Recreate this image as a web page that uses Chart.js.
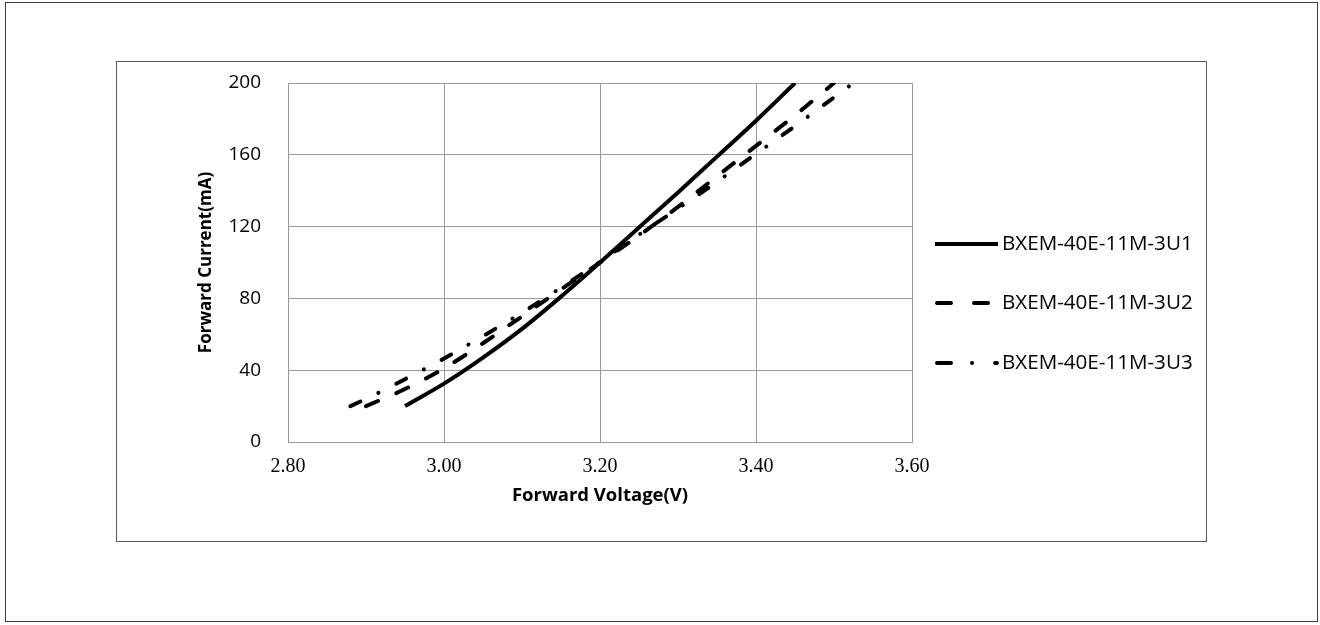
<!DOCTYPE html>
<html>
<head>
<meta charset="utf-8">
<script src="https://cdn.jsdelivr.net/npm/chart.js@4.4.1/dist/chart.umd.min.js"></script>
<style>
  html, body { margin: 0; padding: 0; background: #ffffff; }
  #wrap { width: 1320px; height: 625px; position: relative; }
</style>
</head>
<body>
<div id="wrap"><canvas id="c" width="1320" height="625"></canvas></div>
<script>
// ---- data ----
const seriesNames = ['BXEM-40E-11M-3U1', 'BXEM-40E-11M-3U2', 'BXEM-40E-11M-3U3'];

const u1Voltage = [2.95, 3.00, 3.05, 3.10, 3.15, 3.20, 3.25, 3.30, 3.35, 3.40, 3.45];
const u1Current = [20, 32.5, 47, 63, 81, 100, 119.5, 139, 159, 179, 200];

const u2Voltage = [2.90, 2.95, 3.00, 3.05, 3.10, 3.15, 3.20, 3.25, 3.30, 3.35, 3.40, 3.45, 3.50];
const u2Current = [20, 29.5, 41, 55, 70, 85, 100, 115, 131, 148, 165, 182, 200];

const u3Voltage = [2.88, 2.90, 2.95, 3.00, 3.05, 3.10, 3.15, 3.20, 3.25, 3.30, 3.35, 3.40, 3.45, 3.50, 3.525];
const u3Current = [20, 24, 35, 46.5, 59, 72, 86, 100.5, 115.5, 130, 145, 160.5, 176, 192, 200];

const xTickValues = [2.80, 3.00, 3.20, 3.40, 3.60];
const yTickValues = [0, 40, 80, 120, 160, 200];
const xAxisTitle = 'Forward Voltage(V)';
const yAxisTitle = 'Forward Current(mA)';

// ---- helpers ----
function toPoints(vs, is) { return vs.map((v, k) => ({ x: v, y: is[k] })); }

const GRID = '#9a9a9a';
const plotDashes = [[], [13, 20], [11, 20, 0.1, 20]];
const legendDashes = [[], [14, 23], [14, 21, 0.1, 23]];

const framePlugin = {
  id: 'frame',
  beforeDraw(chart) {
    const ctx = chart.ctx;
    ctx.save();
    ctx.fillStyle = '#ffffff';
    ctx.fillRect(0, 0, chart.width, chart.height);
    ctx.lineWidth = 1;
    ctx.strokeStyle = '#3c3c3c';
    ctx.strokeRect(5.5, 2.5, 1312, 619);
    ctx.strokeStyle = '#5a5a5a';
    ctx.strokeRect(116.5, 61.5, 1090, 480);
    ctx.restore();
  }
};

const legendPlugin = {
  id: 'sideLegend',
  afterDraw(chart) {
    const ctx = chart.ctx;
    const ys = [244, 303, 363];
    chart.data.datasets.forEach((ds, k) => {
      ctx.save();
      ctx.strokeStyle = '#000000';
      ctx.lineWidth = 4;
      ctx.lineCap = k === 0 ? 'butt' : 'round';
      ctx.setLineDash(legendDashes[k]);
      ctx.beginPath();
      ctx.moveTo(k === 0 ? 935 : 937, ys[k]);
      ctx.lineTo(k === 0 ? 998 : 997, ys[k]);
      ctx.stroke();
      ctx.setLineDash([]);
      ctx.font = '20.6px "Open Sans"';
      ctx.fillStyle = '#000000';
      ctx.textAlign = 'left';
      ctx.textBaseline = 'middle';
      ctx.fillText(ds.label, 1002, ys[k]);
      ctx.restore();
    });
  }
};

const seriesData = [toPoints(u1Voltage, u1Current), toPoints(u2Voltage, u2Current), toPoints(u3Voltage, u3Current)];

const datasets = seriesData.map((d, k) => ({
  label: seriesNames[k],
  data: d,
  showLine: true,
  borderColor: '#000000',
  backgroundColor: '#000000',
  borderWidth: 4,
  borderDash: plotDashes[k],
  borderCapStyle: k === 0 ? 'butt' : 'round',
  pointRadius: 0,
  pointHoverRadius: 0,
  cubicInterpolationMode: 'monotone',
  fill: false
}));

new Chart(document.getElementById('c'), {
  type: 'scatter',
  data: { datasets },
  options: {
    responsive: false,
    animation: false,
    devicePixelRatio: 1,
    layout: { padding: { left: 0, top: 83, right: 408, bottom: 0 } },
    plugins: {
      legend: { display: false },
      tooltip: { enabled: false },
      title: { display: false }
    },
    scales: {
      x: {
        type: 'linear',
        min: 2.8,
        max: 3.6,
        afterBuildTicks(scale) { scale.ticks = xTickValues.map(v => ({ value: v })); },
        afterFit(scale) { scale.height = 183; },
        grid: { color: GRID, lineWidth: 1, drawTicks: false },
        border: { color: GRID, width: 1 },
        ticks: {
          padding: 13,
          color: '#000000',
          font: { family: '"Liberation Serif", serif', size: 20 },
          callback: v => Number(v).toFixed(2),
          maxRotation: 0
        },
        title: {
          display: true,
          text: xAxisTitle,
          color: '#000000',
          font: { family: '"Open Sans", sans-serif', size: 18.5, weight: 'bold' },
          padding: { top: 0, bottom: 118 }
        }
      },
      y: {
        type: 'linear',
        min: 0,
        max: 200,
        afterBuildTicks(scale) { scale.ticks = yTickValues.map(v => ({ value: v })); },
        afterFit(scale) { scale.width = 288; },
        grid: { color: GRID, lineWidth: 1, drawTicks: false },
        border: { color: GRID, width: 1 },
        ticks: {
          padding: 27,
          color: '#000000',
          font: { family: '"Open Sans", sans-serif', size: 19 }
        },
        title: {
          display: true,
          text: yAxisTitle,
          color: '#000000',
          font: { family: '"Open Sans", sans-serif', size: 17, weight: 'bold' },
          padding: { top: 196, bottom: 0 }
        }
      }
    }
  },
  plugins: [framePlugin, legendPlugin]
});
</script>
</body>
</html>
